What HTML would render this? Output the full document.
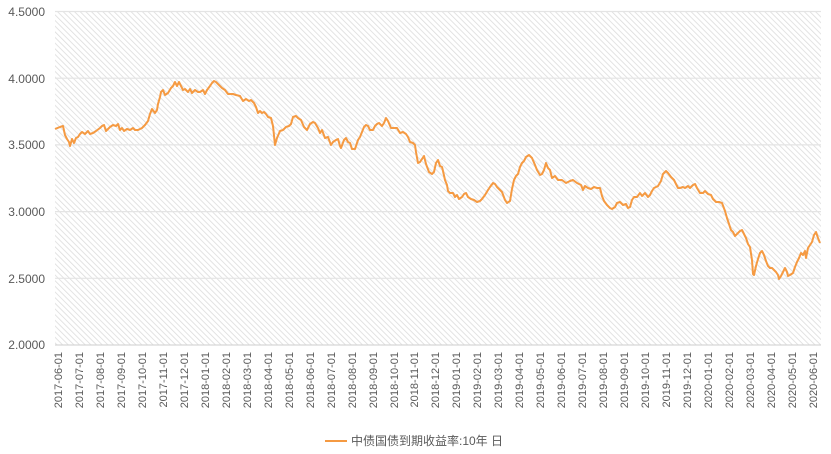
<!DOCTYPE html>
<html><head><meta charset="utf-8"><style>
body{margin:0;background:#fff;}
svg{display:block;font-family:"Liberation Sans","Noto Sans CJK SC",sans-serif;}
</style></head><body>
<svg width="831" height="454" xmlns="http://www.w3.org/2000/svg">
<defs>
<pattern id="h" patternUnits="userSpaceOnUse" width="4" height="4" patternTransform="rotate(-45)">
<rect width="4" height="4" fill="#fff"/>
<line x1="0" y1="0" x2="0" y2="4" stroke="#dcdcdc" stroke-width="1.6"/>
</pattern>
</defs>
<rect x="55" y="11.5" width="766" height="333.5" fill="url(#h)"/>
<g stroke="#e4e4e4" stroke-width="1.2">
<line x1="55" y1="11.5" x2="821" y2="11.5"/>
<line x1="55" y1="78.2" x2="821" y2="78.2"/>
<line x1="55" y1="144.9" x2="821" y2="144.9"/>
<line x1="55" y1="211.6" x2="821" y2="211.6"/>
<line x1="55" y1="278.3" x2="821" y2="278.3"/>
<line x1="55" y1="345" x2="821" y2="345" stroke="#d6d6d6"/>
</g>
<g fill="#595959" font-size="12" text-anchor="end">
<text x="45" y="16">4.5000</text>
<text x="45" y="83">4.0000</text>
<text x="45" y="149">3.5000</text>
<text x="45" y="216">3.0000</text>
<text x="45" y="283">2.5000</text>
<text x="45" y="349">2.0000</text>
</g>
<g fill="#595959" font-size="11" text-anchor="end">
<text transform="translate(62,352) rotate(-90)">2017-06-01</text>
<text transform="translate(83,352) rotate(-90)">2017-07-01</text>
<text transform="translate(104,352) rotate(-90)">2017-08-01</text>
<text transform="translate(125,352) rotate(-90)">2017-09-01</text>
<text transform="translate(146,352) rotate(-90)">2017-10-01</text>
<text transform="translate(167,352) rotate(-90)">2017-11-01</text>
<text transform="translate(188,352) rotate(-90)">2017-12-01</text>
<text transform="translate(209,352) rotate(-90)">2018-01-01</text>
<text transform="translate(230,352) rotate(-90)">2018-02-01</text>
<text transform="translate(251,352) rotate(-90)">2018-03-01</text>
<text transform="translate(272,352) rotate(-90)">2018-04-01</text>
<text transform="translate(293,352) rotate(-90)">2018-05-01</text>
<text transform="translate(314,352) rotate(-90)">2018-06-01</text>
<text transform="translate(335,352) rotate(-90)">2018-07-01</text>
<text transform="translate(356,352) rotate(-90)">2018-08-01</text>
<text transform="translate(377,352) rotate(-90)">2018-09-01</text>
<text transform="translate(398,352) rotate(-90)">2018-10-01</text>
<text transform="translate(418,352) rotate(-90)">2018-11-01</text>
<text transform="translate(439,352) rotate(-90)">2018-12-01</text>
<text transform="translate(460,352) rotate(-90)">2019-01-01</text>
<text transform="translate(481,352) rotate(-90)">2019-02-01</text>
<text transform="translate(502,352) rotate(-90)">2019-03-01</text>
<text transform="translate(523,352) rotate(-90)">2019-04-01</text>
<text transform="translate(544,352) rotate(-90)">2019-05-01</text>
<text transform="translate(565,352) rotate(-90)">2019-06-01</text>
<text transform="translate(586,352) rotate(-90)">2019-07-01</text>
<text transform="translate(607,352) rotate(-90)">2019-08-01</text>
<text transform="translate(628,352) rotate(-90)">2019-09-01</text>
<text transform="translate(649,352) rotate(-90)">2019-10-01</text>
<text transform="translate(670,352) rotate(-90)">2019-11-01</text>
<text transform="translate(691,352) rotate(-90)">2019-12-01</text>
<text transform="translate(712,352) rotate(-90)">2020-01-01</text>
<text transform="translate(733,352) rotate(-90)">2020-02-01</text>
<text transform="translate(754,352) rotate(-90)">2020-03-01</text>
<text transform="translate(775,352) rotate(-90)">2020-04-01</text>
<text transform="translate(796,352) rotate(-90)">2020-05-01</text>
<text transform="translate(817,352) rotate(-90)">2020-06-01</text>
</g>
<polyline fill="none" stroke="#f59a42" stroke-width="2" stroke-linejoin="round" points="55,129 60,127 63,126 65,135 67,139 69,142 70,146 72,139 74,143 76,138 78,137 80,134 82,132 85,134 88,131 90,134 93,133 96,131 100,128 102,126 104,125 106,131 108,129 110,127 113,125 116,126 118,124 120,130 122,128 124,131 127,129 130,130 133,128 135,130 138,130 142,128 145,125 148,121 150,114 152,109 155,113 157,110 158,104 160,97 161,92 163,90 165,95 168,93 171,88 173,86 175,82 177,86 179,82 181,86 183,90 185,89 188,92 190,89 192,93 195,90 198,92 200,92 203,90 205,94 207,90 210,86 212,83 214,81 216,82 218,84 220,86 222,88 225,90 228,94 230,94 233,94 236,95 240,96 243,101 246,99 249,101 251,100 254,103 256,107 258,113 260,111 262,113 264,112 266,114 268,117 271,118 273,126 275,145 277,138 280,131 283,130 286,127 289,126 291,124 293,117 296,116 298,118 301,120 304,127 307,130 310,124 313,122 315,123 318,128 320,133 322,130 325,138 328,137 331,145 333,142 336,140 338,139 340,146 341,148 344,140 346,138 348,142 350,143 352,149 355,149 358,140 360,137 362,132 364,127 366,125 368,126 370,130 373,130 375,126 377,124 379,123 382,126 384,123 386,118 388,121 391,128 393,128 397,128 400,133 403,132 406,134 408,137 410,142 413,143 415,145 416,152 418,163 420,162 422,159 424,156 426,164 429,172 432,174 434,172 436,163 438,160 440,166 442,167 443,171 445,180 447,185 448,191 450,193 453,193 455,197 457,195 459,199 462,197 464,194 466,193 468,197 471,199 474,200 477,202 480,201 482,199 485,195 488,190 490,187 493,183 495,184 497,187 499,189 502,192 505,200 507,203 510,201 512,189 514,180 516,176 518,174 520,167 522,163 524,161 526,157 529,155 532,158 535,165 537,170 540,175 542,174 544,170 546,163 548,168 550,170 552,178 555,176 558,180 562,180 566,183 570,181 573,180 577,183 581,185 583,190 585,186 588,188 591,189 594,187 597,188 600,188 602,196 604,201 607,205 610,208 612,209 615,207 617,203 620,202 623,205 626,204 628,208 630,207 632,200 634,197 637,197 640,193 642,196 645,193 648,197 650,195 652,191 654,188 656,187 658,186 661,181 663,174 666,171 668,173 671,177 674,180 676,184 678,188 680,188 683,187 685,188 688,186 690,188 693,185 695,184 697,188 700,193 703,193 705,191 708,194 711,195 713,199 716,202 719,202 722,203 725,211 727,218 729,224 731,230 733,232 735,236 737,234 740,231 742,230 744,234 746,238 748,244 750,247 752,260 753,274 754,275 756,266 758,259 760,253 762,251 764,255 766,261 768,266 770,268 772,268 774,270 776,272 778,275 779,279 781,276 783,272 785,268 787,272 788,276 790,275 793,273 795,267 797,262 799,258 801,253 803,255 805,251 806,258 808,248 810,245 812,242 814,235 816,232 818,238 820,243"/>
<line x1="325" y1="441" x2="347" y2="441" stroke="#f59a42" stroke-width="2"/>
<text x="351" y="445" fill="#595959" font-size="12">中债国债到期收益率:10年 日</text>
</svg>
</body></html>
